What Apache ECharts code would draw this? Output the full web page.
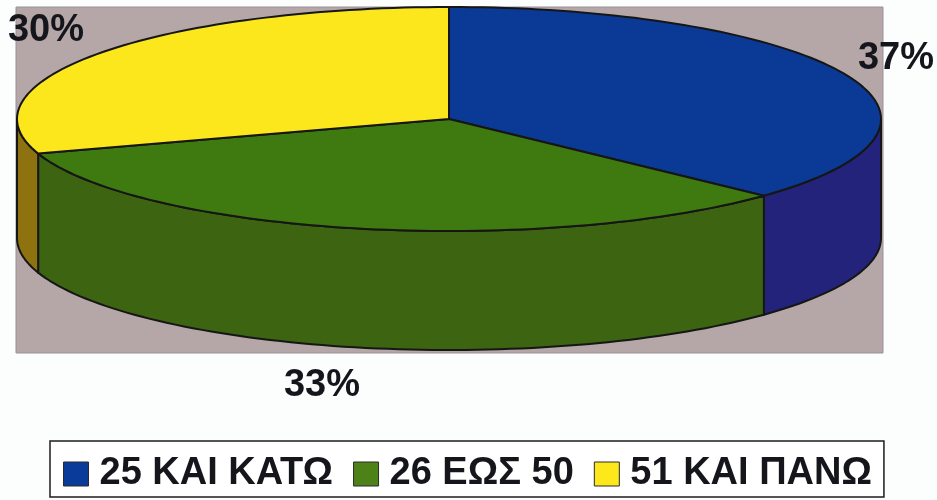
<!DOCTYPE html>
<html><head><meta charset="utf-8">
<style>html,body{margin:0;padding:0;background:#fcfdfd}#c{width:937px;height:500px}</style>
<script src="https://cdn.jsdelivr.net/npm/echarts@6/dist/echarts.min.js"></script>
</head><body><div id="c"></div>
<script>
const categories = ['25 ΚΑΙ ΚΑΤΩ', '26 ΕΩΣ 50', '51 ΚΑΙ ΠΑΝΩ'];
const values = [37, 33, 30];
const topColors = ['#0a3a96', '#3f7a10', '#fce61c'];
const sideColors = ['#23237c', '#3d6410', '#8f7210'];
const legendColors = ['#0a3a9a', '#4d8218', '#fde81c'];
const labelAnchors = [[896, 59], [322, 386], [46, 31]];

const CX = 449, CY = 119, RX = 432, RY = 112, DEPTH = 119;
const total = values.reduce((a, b) => a + b, 0);
const pt = (deg, dy) => {
  const r = deg * Math.PI / 180;
  return [CX + RX * Math.sin(r), CY - RY * Math.cos(r) + dy];
};
const arc = (a, b, dy) => {
  const pts = [], n = Math.max(2, Math.ceil(Math.abs(b - a) / 1.5));
  for (let i = 0; i <= n; i++) pts.push(pt(a + (b - a) * i / n, dy));
  return pts;
};
const outline = { stroke: '#161616', lineWidth: 2, lineJoin: 'round' };

const series = categories.map((name, i) => {
  const before = values.slice(0, i).reduce((a, b) => a + b, 0);
  const a0 = before / total * 360, a1 = (before + values[i]) / total * 360;
  return {
    type: 'custom', name, coordinateSystem: 'none',
    itemStyle: { color: legendColors[i] },
    data: [values[i]],
    silent: true,
    renderItem: () => {
      const children = [];
      const s0 = Math.max(a0, 90), s1 = Math.min(a1, 270);
      if (s1 > s0) {
        children.push({
          type: 'polygon', z2: 1,
          shape: { points: arc(s0, s1, 0).concat(arc(s1, s0, DEPTH)) },
          style: { fill: sideColors[i], ...outline }
        });
      }
      children.push({
        type: 'polygon', z2: 2,
        shape: { points: [[CX, CY]].concat(arc(a0, a1, 0)) },
        style: { fill: topColors[i], ...outline }
      });
      children.push({
        type: 'text', z2: 3,
        style: {
          x: labelAnchors[i][0], y: labelAnchors[i][1],
          text: values[i] + '%', align: 'center', verticalAlign: 'middle',
          font: 'bold 38px "Liberation Sans", Arial, sans-serif', fill: '#15151c'
        }
      });
      return { type: 'group', children };
    }
  };
});

const chart = echarts.init(document.getElementById('c'), null, { renderer: 'canvas' });
chart.setOption({
  animation: false,
  backgroundColor: '#fcfdfd',
  graphic: [{
    type: 'rect', z: -1, silent: true,
    shape: { x: 16, y: 7, width: 867, height: 346 },
    style: { fill: '#b5a7a7', stroke: '#9a9097', lineWidth: 1 }
  }],
  legend: {
    left: 50, top: 441,
    data: categories,
    orient: 'horizontal',
    icon: 'rect',
    itemWidth: 25, itemHeight: 24, itemGap: 20,
    padding: [14, 12, 4, 13],
    backgroundColor: '#ffffff',
    borderColor: '#1c1c1c', borderWidth: 1.5,
    itemStyle: { borderColor: '#2a2a2a', borderWidth: 1 },
    textStyle: { fontFamily: '"Liberation Sans", Arial, sans-serif', fontWeight: 'bold', fontSize: 38, color: '#15151c', padding: [0, 0, 0, 6] },
    selectedMode: false
  },
  series
});
</script></body></html>
